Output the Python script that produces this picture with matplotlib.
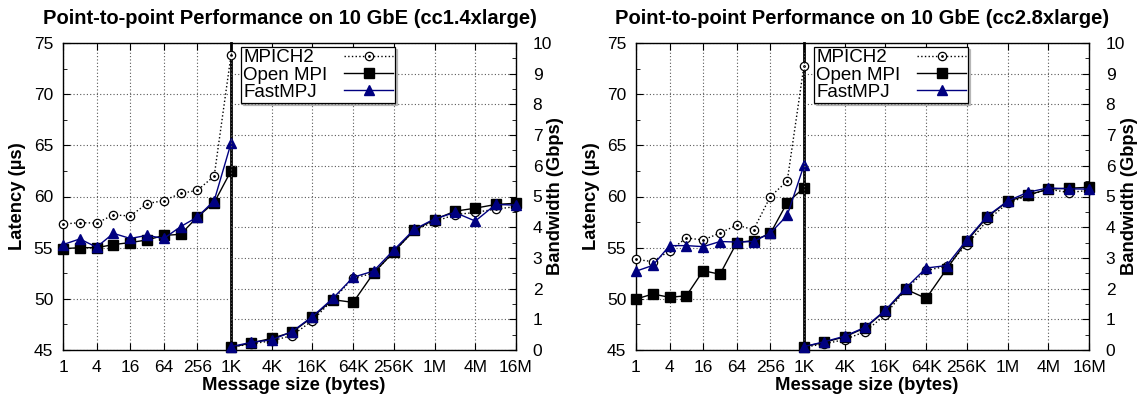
import numpy as np
import matplotlib
matplotlib.use('Agg')
import matplotlib.pyplot as plt
from matplotlib.legend_handler import HandlerTuple

plt.rcParams['font.family'] = ['Liberation Sans', 'DejaVu Sans']

# message sizes (bytes)
lat_sizes = [1, 2, 4, 8, 16, 32, 64, 128, 256, 512, 1024]
bw_sizes = [1024, 2048, 4096, 8192, 16384, 32768, 65536, 131072, 262144,
            524288, 1048576, 2097152, 4194304, 8388608, 16777216]
lat_ticks = [1, 4, 16, 64, 256, 1024]
lat_ticklabels = ['1', '4', '16', '64', '256', '1K']
bw_ticks = [1024, 4096, 16384, 65536, 262144, 1048576, 4194304, 16777216]
bw_ticklabels = ['', '4K', '16K', '64K', '256K', '1M', '4M', '16M']

series_names = ['MPICH2', 'Open MPI', 'FastMPJ']

# cc1.4xlarge: latency (us) and bandwidth (Gbps)
lat_cc1_mpich = [57.3, 57.45, 57.4, 58.2, 58.1, 59.3, 59.6, 60.3, 60.6, 62.0, 73.8]
lat_cc1_ompi = [54.9, 55.0, 55.0, 55.3, 55.5, 55.75, 56.2, 56.3, 58.0, 59.4, 62.5]
lat_cc1_fmpj = [55.3, 55.85, 55.05, 56.4, 55.9, 56.2, 55.9, 57.05, 58.0, 59.6, 65.2]
bw_cc1_mpich = [0.09, 0.2, 0.3, 0.47, 0.96, 1.64, 2.34, 2.5, 3.2, 3.9, 4.18, 4.41, 4.48, 4.59, 4.67]
bw_cc1_ompi = [0.09, 0.23, 0.38, 0.58, 1.07, 1.64, 1.55, 2.5, 3.2, 3.9, 4.25, 4.52, 4.62, 4.74, 4.78]
bw_cc1_fmpj = [0.11, 0.25, 0.33, 0.6, 1.09, 1.68, 2.37, 2.57, 3.26, 3.93, 4.27, 4.48, 4.2, 4.74, 4.72]

# cc2.8xlarge
lat_cc2_mpich = [53.86, 53.63, 54.7, 55.95, 55.75, 56.43, 57.2, 56.76, 60.0, 61.5, 72.8]
lat_cc2_ompi = [49.98, 50.47, 50.15, 50.3, 52.75, 52.4, 55.5, 55.7, 56.4, 59.4, 60.85]
lat_cc2_fmpj = [52.7, 53.27, 55.2, 55.2, 55.1, 55.6, 55.55, 55.6, 56.43, 58.15, 63.06]
bw_cc2_mpich = [0.09, 0.2, 0.34, 0.6, 1.15, 1.98, 2.59, 2.73, 3.43, 4.22, 4.78, 5.03, 5.24, 5.13, 5.2]
bw_cc2_ompi = [0.11, 0.25, 0.43, 0.72, 1.28, 1.98, 1.68, 2.63, 3.55, 4.33, 4.84, 5.05, 5.24, 5.27, 5.3]
bw_cc2_fmpj = [0.11, 0.27, 0.45, 0.74, 1.3, 2.02, 2.67, 2.75, 3.59, 4.36, 4.85, 5.14, 5.28, 5.25, 5.24]

W, H = 1144, 400
fig = plt.figure(figsize=(W / 100, H / 100), dpi=100)

navy = '#000080'
grid_kw = dict(ls=(0, (1, 2)), color='0.35', lw=0.8)
legends = []


def draw_series(ax, x, ys):
    # MPICH2: dotted line, open circle with a dot inside
    l1, = ax.plot(x, ys[0], ls=':', color='black', lw=1, marker='o', ms=6,
                  mfc='white', mec='black', mew=0.9, clip_on=False, zorder=3)
    d1, = ax.plot(x, ys[0], ls='none', marker='.', ms=2, color='black',
                  clip_on=False, zorder=3)
    l2, = ax.plot(x, ys[1], ls='-', color='black', lw=1, marker='s', ms=6.5,
                  clip_on=False, zorder=4)
    l3, = ax.plot(x, ys[2], ls='-', color=navy, lw=1, marker='^', ms=6.5,
                  clip_on=False, zorder=5)
    return [(l1, d1), l2, l3]


def panel(px0, pxs, px1, title, lat, bw):
    b = 1 - 350 / H
    h = (350 - 43) / H
    axl = fig.add_axes([px0 / W, b, (pxs - px0) / W, h])
    axr = fig.add_axes([pxs / W, b, (px1 - pxs) / W, h])
    for ax in (axl, axr):
        ax.set_xscale('log', base=2)
        ax.set_facecolor('none')
    axl.set_xlim(1, 1024)
    axl.set_ylim(45, 75)
    axr.set_xlim(1024, 16777216)
    axr.set_ylim(0, 10)

    axl.set_xticks(lat_ticks, lat_ticklabels)
    axl.set_xticks([], minor=True)
    axr.set_xticks(bw_ticks, bw_ticklabels)
    axr.set_xticks([], minor=True)
    axl.set_yticks(np.arange(45, 76, 5))
    axl.set_yticks(np.arange(47.5, 75, 5), minor=True)
    axr.yaxis.tick_right()
    axr.set_yticks(np.arange(0, 11, 1))
    axr.set_yticks(np.arange(0.5, 10, 1), minor=True)

    axl.grid(True, which='major', **grid_kw)
    axr.grid(True, which='major', **grid_kw)

    axl.tick_params(which='both', direction='in', top=True, bottom=True,
                    left=True, right=False, labelsize=12.5, pad=7)
    axr.tick_params(which='both', direction='in', top=True, bottom=True,
                    left=False, right=True, labelleft=False, labelright=True,
                    labelsize=12.5, pad=7)
    axr.tick_params(axis='y', pad=12)
    for ax in (axl, axr):
        ax.tick_params(which='major', length=5)
        ax.tick_params(which='minor', length=3)
        for s in ax.spines.values():
            s.set_linewidth(1.0)
    axl.spines['right'].set_linewidth(2.0)
    axr.spines['left'].set_visible(False)

    draw_series(axl, lat_sizes, lat)
    handles = draw_series(axr, bw_sizes, bw)

    leg = axr.legend(handles, series_names, loc='upper left',
                     bbox_to_anchor=((pxs + 10) / W, 1 - 47 / H),
                     bbox_transform=fig.transFigure, borderaxespad=0,
                     markerfirst=False, fontsize=13.5, handlelength=2.6,
                     handletextpad=0.9, labelspacing=0.0, borderpad=0.12,
                     fancybox=False, framealpha=1, edgecolor='black',
                     shadow={'ox': 1.5, 'oy': -1.5, 'color': '0.55'},
                     handler_map={tuple: HandlerTuple(ndivide=1)})
    leg.get_frame().set_linewidth(0.9)
    leg.set_zorder(10)
    legends.append(leg)

    cx = (px0 + px1) / 2
    fig.text(cx / W, 1 - 18 / H, title, ha='center', va='center',
             fontsize=14.5, fontweight='bold')
    fig.text((cx + 4) / W, 1 - 385 / H, 'Message size (bytes)', ha='center',
             va='center', fontsize=13.3, fontweight='bold')
    fig.text((px0 - 45) / W, 1 - 196 / H, 'Latency (µs)', ha='center',
             va='center', rotation=90, fontsize=13.2, fontweight='bold')
    fig.text((px1 + 40) / W, 1 - 196 / H, 'Bandwidth (Gbps)', ha='center',
             va='center', rotation=90, fontsize=13.2, fontweight='bold')


panel(63, 231, 516, 'Point-to-point Performance on 10 GbE (cc1.4xlarge)',
      [lat_cc1_mpich, lat_cc1_ompi, lat_cc1_fmpj],
      [bw_cc1_mpich, bw_cc1_ompi, bw_cc1_fmpj])
panel(636, 804, 1089, 'Point-to-point Performance on 10 GbE (cc2.8xlarge)',
      [lat_cc2_mpich, lat_cc2_ompi, lat_cc2_fmpj],
      [bw_cc2_mpich, bw_cc2_ompi, bw_cc2_fmpj])

# legend labels are right-aligned when markerfirst=False; shift them left
fig.canvas.draw()
r = fig.canvas.get_renderer()
for leg in legends:
    texts = leg.get_texts()
    widths = [t.get_window_extent(r).width for t in texts]
    wmax = max(widths)
    for t, w in zip(texts, widths):
        t.set_position((-(wmax - w), 0))

fig.savefig('out.png', dpi=100)
